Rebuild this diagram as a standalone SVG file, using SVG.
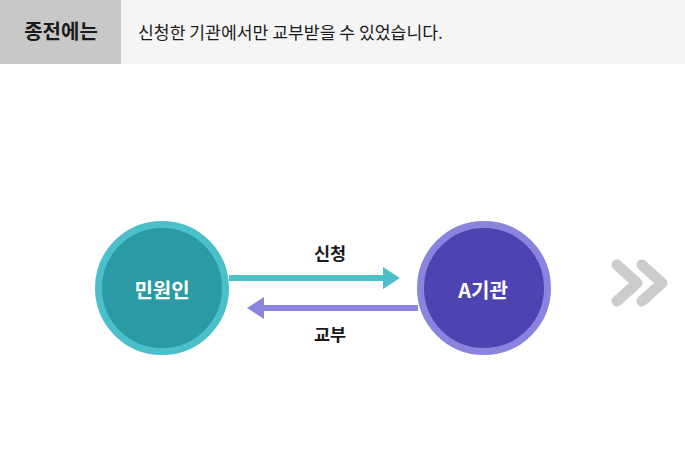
<svg xmlns="http://www.w3.org/2000/svg" width="685" height="476" viewBox="0 0 685 476">
<style>
.t{font-family:"Noto Sans CJK KR","Noto Sans",sans-serif}
.b{font-weight:700}
.w{fill:#ffffff}
.k{fill:#1a1a1a}
</style>
<rect x="0" y="0" width="685" height="476" fill="#ffffff"/>
<g id="header">
<rect x="0" y="0" width="685" height="64" fill="#f5f5f5"/>
<rect x="0" y="0" width="121" height="64" fill="#c8c8c8"/>
<text x="61" y="39" text-anchor="middle" class="t b k" font-size="20">종전에는</text>
<text x="138" y="38.500" class="t k" font-size="17.200">신청한 기관에서만 교부받을 수 있었습니다.</text>
</g>
<g id="connectors">
<line x1="229" y1="278" x2="385" y2="278" stroke="#4bbfca" stroke-width="6"/>
<polygon points="383,267 400,278 383,289" fill="#4bbfca"/>
<line x1="418" y1="308" x2="262" y2="308" stroke="#8b84de" stroke-width="6"/>
<polygon points="264,297 247,308 264,319" fill="#8b84de"/>
<text x="330" y="259.500" text-anchor="middle" class="t b k" font-size="17.500">신청</text>
<text x="330" y="340.500" text-anchor="middle" class="t b k" font-size="17.500">교부</text>
</g>
<g id="node-minwon">
<circle cx="162" cy="288" r="63.500" fill="#2a9ba4" stroke="#4bbfca" stroke-width="7"/>
<text x="162" y="298" text-anchor="middle" class="t b w" font-size="20">민원인</text>
</g>
<g id="node-agency">
<circle cx="484" cy="288" r="63.500" fill="#4d44b2" stroke="#8b84de" stroke-width="7"/>
<text x="483" y="298" text-anchor="middle" class="t b w" font-size="20">A기관</text>
</g>
<g id="chevrons" fill="none" stroke="#cccccc" stroke-width="11" stroke-linecap="round" stroke-linejoin="round">
<polyline points="617,265 637,283 617,301"/>
<polyline points="642,265 662,283 642,301"/>
</g>
</svg>
